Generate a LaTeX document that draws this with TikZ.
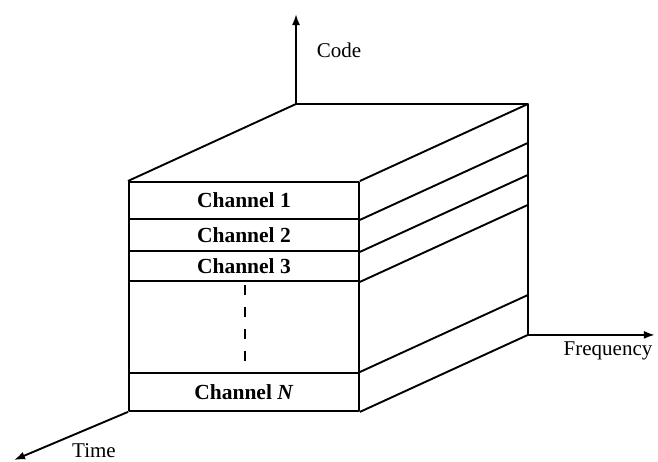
\documentclass[tikz,border=0pt]{standalone}
\usepackage{fontspec}
\setmainfont{Liberation Serif}
\usetikzlibrary{arrows.meta}
\begin{document}
\begin{tikzpicture}[x=1pt,y=-1pt,line width=1.9pt,line join=round,
  layer/.style={draw, anchor=north west, minimum width=230pt, inner sep=0pt,
    font=\fontsize{21.5}{25}\selectfont\bfseries},
  axis/.style={-{Latex[length=11pt,width=8pt]}, line width=1.9pt},
  axlabel/.style={font=\fontsize{21}{25}\selectfont}]
\useasboundingbox (0,0) rectangle (658,461);
% front face layers
\node[layer, minimum height=37pt] (ch1) at (128,181) {Channel 1};
\node[layer, minimum height=32pt] (ch2) at (128,218) {Channel 2};
\node[layer, minimum height=30pt] (ch3) at (128,250) {Channel 3};
\node[layer, minimum height=92pt] (gap) at (128,280) {};
\node[layer, minimum height=38pt] (chN) at (128,372) {Channel \textit{N}};
% top face
\path (ch1.north west) ++(168,-77) coordinate (o);
\path (ch1.north east) ++(168,-77) coordinate (br);
\draw (ch1.north west) -- (o) -- (br) -- (ch1.north east);
% side face
\draw (ch1.south east) -- ++(168,-77);
\draw (ch2.south east) -- ++(168,-77);
\draw (ch3.south east) -- ++(168,-77);
\draw (chN.north east) -- ++(168,-77);
\draw (chN.south east) -- ++(168,-77) coordinate (bb);
\draw (br) -- (bb);
% dashed continuation
\coordinate (d1) at (245,285);
\coordinate (d2) at (245,362);
\draw[line width=1.6pt, dash pattern=on 10pt off 12pt] (d1) -- (d2);
% axes
\draw[axis] (o) -- ++(0,-90) coordinate (codetip);
\draw[axis] (bb) -- ++(127,0) coordinate (freqtip);
\draw[axis] (chN.south west) -- (14,460) coordinate (timetip);
\node[axlabel] (code) at (339,50) {Code};
\node[axlabel] (freq) at (608,351) {Frequency};
\node[axlabel] (time) at (94,451) {Time};
\end{tikzpicture}
\end{document}
